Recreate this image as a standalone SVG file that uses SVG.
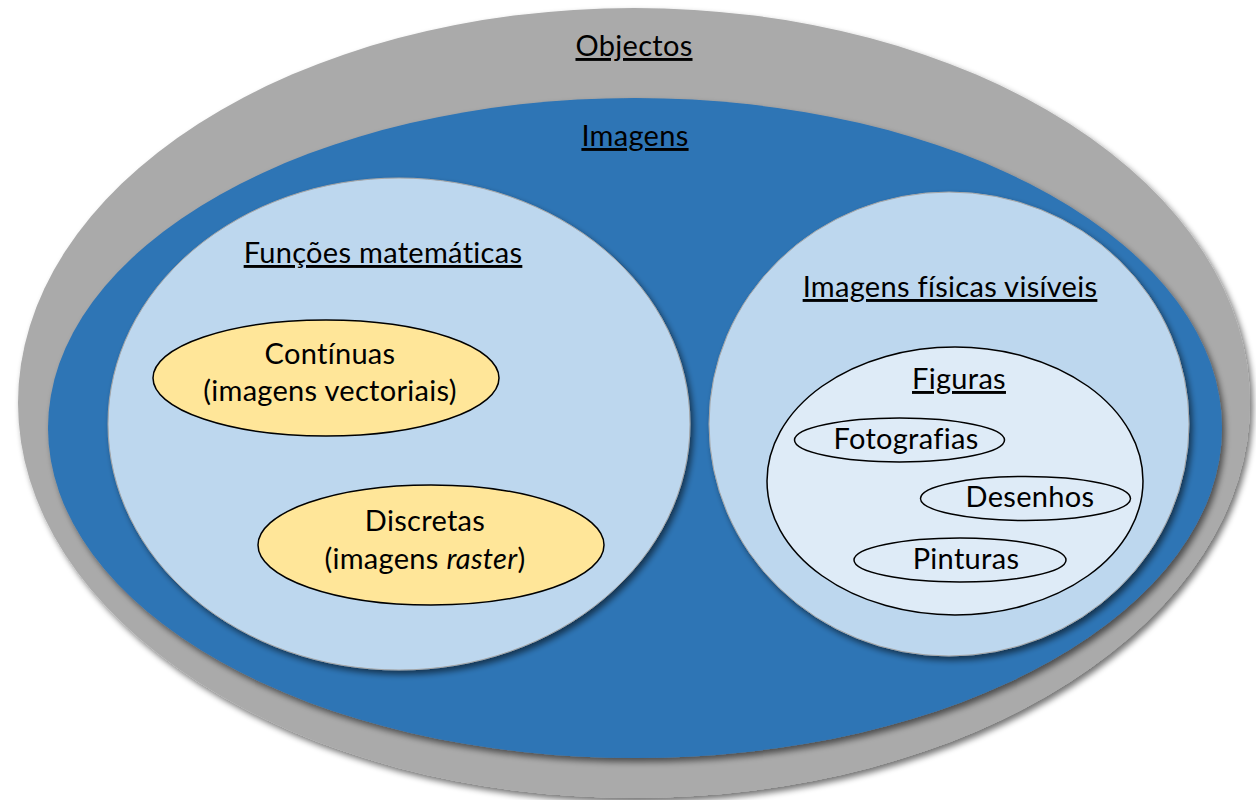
<svg xmlns="http://www.w3.org/2000/svg" width="1256" height="800" viewBox="0 0 1256 800">
  <defs>
    <filter id="shadow" x="-10%" y="-10%" width="120%" height="120%">
      <feGaussianBlur in="SourceAlpha" stdDeviation="3"/>
      <feOffset dx="3" dy="4" result="b"/>
      <feComponentTransfer><feFuncA type="linear" slope="0.55"/></feComponentTransfer>
      <feMerge><feMergeNode/><feMergeNode in="SourceGraphic"/></feMerge>
    </filter>
  </defs>
  <style>
    text { font-family: Lato, "Liberation Sans", sans-serif; font-size: 29px; letter-spacing: 0.3px; fill: #000; text-anchor: middle; }
    .title { text-decoration: underline; }
    .outer { fill: #aaaaaa; }
    .imgs { fill: #2e74b5; }
    .set { fill: #bdd7ee; stroke: #a6a6a6; stroke-width: 1; }
    .yellow { fill: #ffe699; stroke: #000; stroke-width: 1.5; }
    .fig { fill: #deebf7; stroke: #000; stroke-width: 1.5; }
    .small { fill: none; stroke: #000; stroke-width: 1.5; }
  </style>

  <g id="objectos">
    <ellipse class="outer" cx="634" cy="403" rx="616" ry="395" filter="url(#shadow)"/>
    <text class="title" x="634" y="56">Objectos</text>
  </g>

  <g id="imagens">
    <ellipse class="imgs" cx="635" cy="428" rx="587" ry="330" filter="url(#shadow)"/>
    <text class="title" x="635" y="146">Imagens</text>
  </g>

  <g id="funcoes">
    <ellipse class="set" cx="399" cy="424" rx="291" ry="246" filter="url(#shadow)"/>
    <text class="title" x="383" y="263">Funções matemáticas</text>
  </g>

  <g id="continuas">
    <ellipse class="yellow" cx="326" cy="378" rx="173" ry="58"/>
    <text x="330" y="364">Contínuas</text>
    <text x="330" y="401">(imagens vectoriais)</text>
  </g>

  <g id="discretas">
    <ellipse class="yellow" cx="431" cy="545" rx="173" ry="60"/>
    <text x="425" y="531">Discretas</text>
    <text x="425" y="569">(imagens <tspan font-style="italic">raster</tspan>)</text>
  </g>

  <g id="fisicas">
    <ellipse class="set" cx="949" cy="424" rx="240" ry="232" filter="url(#shadow)"/>
    <text class="title" x="950" y="297">Imagens físicas visíveis</text>
  </g>

  <g id="figuras">
    <ellipse class="fig" cx="955" cy="481" rx="188" ry="134"/>
    <text class="title" x="959" y="389">Figuras</text>
  </g>

  <g id="fotografias">
    <ellipse class="small" cx="899.5" cy="440" rx="105" ry="22"/>
    <text x="906" y="449">Fotografias</text>
  </g>

  <g id="desenhos">
    <ellipse class="small" cx="1025.5" cy="498.5" rx="105" ry="22"/>
    <text x="1030" y="507">Desenhos</text>
  </g>

  <g id="pinturas">
    <ellipse class="small" cx="960" cy="560" rx="106" ry="22"/>
    <text x="966" y="569">Pinturas</text>
  </g>

  <g id="connectors"/>
</svg>
